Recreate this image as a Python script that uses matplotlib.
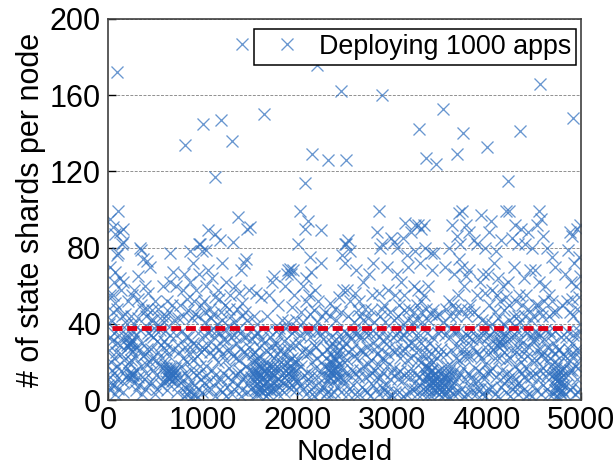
# state shards per node, deploying 1000 apps
import numpy as np
import matplotlib
matplotlib.use("Agg")
import matplotlib.pyplot as plt

# data, (node id, shards), grouped by node range
band0=[(100,172),(109,99),(21,95),(56,91),(162,90),(74,87),(126,88),(144,82),(161,83),(109,77),(91,76),(338,80),(345,79),(373,74),(408,73),(444,70),(74,67),(20,70),(162,62),(320,65),(391,60),(126,64),(60,62),(25,55),(56,55),(215,52),(426,56),(497,52),(460,47),(144,44),(180,45),(320,43),(100,48),(30,42),(280,40),(400,44),(450,42),(350,50),(250,55),(200,40),(120,38),(60,35),(20,33),(90,30),(232,30),(268,31),(197,29),(240,27),(225,33),(255,25),(300,34),(360,30),(420,35),(480,33),(330,26),(390,24),(450,27),(140,24),(60,22),(30,20),(100,18),(170,21),(60,14),(90,11),(268,13),(232,12),(250,13),(300,16),(350,18),(400,14),(440,20),(480,16),(20,5),(39,8),(70,3),(110,6),(356,3),(330,8),(390,6),(460,9),(300,5),(495,3),(150,10),(25,12),(10,26),(220,20)]
band1=[(814,134),(655,77),(867,78),(690,67),(585,60),(796,58),(532,48),(796,44),(884,43),(850,47),(760,50),(700,42),(640,46),(590,41),(540,39),(930,58),(960,66),(980,50),(920,45),(720,60),(660,62),(620,52),(800,66),(870,62),(900,72),(960,82),(990,78),(971,82),(660,34),(600,36),(720,34),(780,36),(850,33),(900,30),(950,35),(520,31),(560,29),(610,26),(690,27),(750,25),(810,28),(870,24),(940,23),(990,28),(510,21),(545,18),(600,19),(640,17),(673,13),(620,14),(708,12),(585,17),(650,12),(690,15),(660,11),(635,15),(720,15),(770,18),(830,20),(880,16),(930,13),(970,18),(560,8),(520,6),(620,5),(580,10),(730,4),(831,3),(920,3),(880,4),(800,2),(860,8),(950,6),(990,4),(840,6),(900,1),(780,10)]
band2=[(1005,145),(1191,147),(1314,136),(1131,117),(1413,187),(1376,96),(1500,91),(1059,89),(1130,87),(1182,84),(1323,83),(1041,79),(1200,72),(1059,68),(1464,74),(1411,68),(1440,72),(1470,90),(1040,60),(1100,64),(1160,58),(1250,62),(1290,55),(1340,60),(1380,56),(1010,52),(1080,48),(1130,54),(1190,46),(1240,50),(1300,44),(1360,48),(1420,44),(1470,42),(1030,41),(1090,43),(1150,40),(1210,42),(1270,39),(1330,41),(1390,38),(1450,46),(1060,35),(1120,33),(1180,35),(1240,32),(1300,33),(1350,30),(1400,35),(1460,33),(1020,27),(1080,25),(1140,28),(1200,24),(1260,26),(1320,23),(1380,21),(1440,25),(1490,28),(1040,18),(1100,16),(1160,20),(1220,14),(1280,17),(1340,13),(1400,15),(1460,18),(1020,9),(1090,6),(1150,10),(1210,4),(1260,7),(1310,3),(1370,8),(1420,5),(1480,9),(1130,2)]
band3=[(1652,150),(1540,44),(1560,56),(1570,35),(1580,40),(1620,54),(1680,44),(1700,55),(1730,62),(1760,65),(1800,50),(1840,42),(1870,60),(1890,66),(1905,68),(1922,69),(1957,68),(1932,66),(1970,55),(1950,49),(1900,41),(1830,35),(1790,30),(1710,33),(1650,30),(1600,28),(1550,25),(1520,20),(1560,16),(1590,19),(1610,13),(1540,10),(1570,8),(1555,5),(1590,3),(1620,7),(1640,12),(1660,15),(1680,10),(1700,18),(1720,14),(1740,9),(1760,13),(1780,6),(1800,3),(1830,10),(1650,5),(1690,3),(1725,5),(1600,10),(1580,14),(1560,12),(1630,17),(1665,20),(1710,24),(1750,22),(1790,18),(1820,16),(1850,19),(1880,24),(1900,14),(1920,18),(1940,12),(1960,16),(1980,10),(1890,8),(1930,6),(1860,4),(1990,5),(1950,22),(1985,20),(1905,27),(1975,29),(1515,6),(1530,15),(1670,2),(1700,8),(1610,22),(1755,30),(1820,26),(1860,31),(1940,35),(1985,42),(1600,18),(1640,8),(1680,17),(1730,18),(1575,22),(1525,32)]
band4=[(2160,129),(2326,126),(2083,114),(2205,176),(2463,162),(2027,99),(2115,94),(2080,90),(2256,89),(2010,82),(2133,75),(2256,72),(2060,60),(2095,64),(2150,67),(2190,58),(2130,55),(2090,52),(2040,46),(2180,47),(2220,52),(2290,46),(2350,44),(2400,48),(2440,54),(2480,58),(2500,82),(2470,76),(2510,72),(2000,38),(2060,41),(2120,36),(2180,38),(2240,34),(2300,37),(2360,33),(2420,36),(2470,32),(2020,30),(2080,27),(2140,25),(2200,28),(2260,24),(2320,27),(2360,24),(2400,28),(2440,23),(2490,20),(2040,18),(2100,14),(2160,20),(2220,12),(2280,18),(2340,16),(2370,20),(2390,13),(2410,18),(2430,15),(2350,12),(2380,10),(2400,22),(2420,25),(2450,12),(2470,16),(2310,10),(2280,7),(2240,4),(2200,8),(2160,3),(2120,9),(2060,6),(2010,10),(2500,9),(2460,4),(2420,7),(2360,3),(2320,4),(2375,16),(2400,16),(2345,20),(2140,45)]
band5=[(2893,160),(2516,126),(2520,82),(2540,84),(2560,78),(2620,68),(2700,62),(2760,66),(2800,72),(2860,99),(2845,88),(2880,80),(2900,82),(2950,70),(2990,85),(2610,56),(2530,58),(2560,52),(2650,52),(2720,48),(2790,55),(2860,56),(2920,50),(2960,58),(2540,44),(2600,41),(2660,44),(2700,42),(2745,43),(2810,41),(2870,44),(2930,41),(2985,46),(2520,35),(2570,32),(2630,35),(2690,33),(2750,34),(2800,30),(2860,33),(2920,31),(2970,28),(2540,25),(2600,23),(2660,26),(2720,24),(2780,21),(2840,24),(2900,22),(2950,18),(2520,14),(2580,16),(2640,12),(2700,18),(2760,13),(2820,16),(2880,12),(2940,8),(2990,14),(2550,6),(2610,3),(2680,7),(2740,4),(2800,8),(2860,3),(2920,5),(2970,1)]
band6=[(3290,142),(3362,127),(3464,124),(3140,93),(3200,88),(3250,92),(3280,92),(3340,92),(3310,90),(3020,83),(3060,80),(3120,85),(3160,76),(3240,78),(3300,72),(3350,80),(3410,77),(3450,77),(3420,68),(3050,66),(3100,62),(3170,70),(3230,60),(3280,58),(3340,55),(3380,60),(3030,55),(3080,50),(3130,55),(3180,48),(3230,46),(3270,50),(3310,46),(3360,48),(3410,45),(3470,44),(3020,42),(3070,44),(3120,40),(3170,42),(3220,41),(3265,42),(3320,41),(3380,42),(3440,47),(3500,45),(3040,34),(3100,33),(3150,36),(3200,30),(3260,34),(3310,30),(3370,35),(3430,33),(3490,35),(3030,25),(3090,22),(3140,27),(3200,22),(3260,25),(3310,20),(3340,15),(3360,12),(3380,17),(3400,14),(3420,10),(3440,13),(3460,8),(3480,11),(3500,6),(3370,18),(3395,9),(3415,16),(3435,5),(3455,14),(3475,4),(3490,15),(3050,14),(3110,10),(3170,15),(3230,9),(3290,12),(3080,4),(3150,3),(3210,6),(3270,3),(3330,6),(3345,10),(3390,20),(3440,20),(3390,5),(3365,24),(3410,24)]
band7=[(3538,153),(3753,140),(3686,129),(3710,98),(3740,99),(3640,92),(3690,86),(3600,80),(3560,70),(3720,82),(3780,92),(3820,88),(3870,84),(3940,97),(3900,82),(3980,80),(3660,66),(3710,74),(3740,70),(3780,65),(3820,68),(3700,55),(3760,60),(3650,50),(3610,44),(3570,48),(3540,41),(3680,44),(3730,48),(3780,44),(3830,50),(3870,46),(3930,62),(3900,55),(3960,66),(3990,56),(3950,42),(3515,36),(3560,34),(3610,33),(3660,36),(3720,32),(3790,34),(3840,36),(3900,33),(3960,34),(3520,27),(3575,24),(3630,26),(3680,22),(3740,27),(3800,23),(3860,28),(3920,24),(3980,28),(3515,14),(3535,10),(3555,8),(3570,13),(3590,6),(3610,11),(3525,4),(3550,3),(3600,2),(3640,8),(3660,15),(3700,12),(3750,17),(3810,14),(3860,10),(3920,15),(3975,11),(3680,4),(3730,6),(3790,3),(3840,4),(3900,6),(3950,3),(3995,5),(3625,18),(3580,18)]
band8=[(4006,133),(4355,141),(4228,115),(4050,94),(4030,88),(4100,78),(4080,72),(4150,84),(4210,99),(4240,99),(4270,85),(4300,92),(4330,82),(4370,90),(4410,82),(4440,88),(4480,80),(4020,66),(4060,58),(4120,64),(4180,60),(4230,62),(4290,70),(4340,55),(4400,64),(4460,68),(4030,50),(4090,46),(4140,52),(4190,47),(4240,50),(4290,44),(4330,44),(4380,50),(4440,48),(4490,44),(4000,41),(4060,40),(4120,43),(4180,40),(4240,42),(4300,39),(4360,41),(4410,44),(4470,42),(4030,34),(4090,32),(4140,36),(4200,34),(4260,33),(4320,36),(4380,30),(4430,35),(4490,31),(4160,32),(4130,28),(4020,24),(4070,26),(4130,22),(4190,25),(4250,22),(4310,25),(4370,20),(4430,23),(4480,21),(4040,15),(4100,12),(4160,16),(4220,14),(4280,10),(4340,15),(4400,12),(4460,14),(4030,6),(4090,3),(4150,7),(4210,4),(4270,6),(4330,3),(4390,5),(4450,3),(4490,8)]
band9=[(4567,166),(4912,148),(4555,99),(4580,95),(4530,92),(4600,86),(4640,80),(4690,75),(4720,70),(4510,68),(4560,62),(4620,60),(4660,55),(4880,88),(4910,86),(4960,90),(4990,92),(4860,79),(4930,72),(4980,75),(4830,66),(4890,62),(4950,60),(4990,65),(4520,50),(4570,46),(4610,52),(4660,44),(4700,46),(4590,44),(4740,46),(4800,50),(4850,52),(4880,46),(4920,44),(4960,48),(4990,40),(4510,36),(4560,33),(4620,37),(4680,34),(4730,36),(4790,33),(4850,36),(4900,30),(4960,34),(4530,26),(4590,24),(4640,28),(4700,30),(4760,26),(4810,24),(4870,27),(4920,22),(4980,26),(4510,14),(4570,16),(4630,12),(4680,18),(4710,20),(4730,14),(4750,10),(4770,6),(4790,12),(4810,8),(4740,17),(4760,19),(4780,15),(4820,17),(4860,13),(4910,16),(4960,11),(4520,5),(4580,3),(4640,6),(4700,3),(4730,5),(4750,2),(4790,3),(4770,1),(4830,3),(4880,5),(4940,3),(4990,6)]

# second pass over the dense part, mostly below 50
low0=[(15,40),(47,31),(83,25),(116,34),(135,15),(175,33),(205,17),(212,36),(243,21),(262,36),(285,22),(315,12),(341,37),(368,23),(377,11),(412,27),(433,9),(469,22),(488,38),(38,16),(66,8),(124,29),(154,4),(187,12),(278,9),(295,28),(405,19),(455,34),(225,30),(237,29),(248,31),(215,28),(258,14),(241,11),(222,14),(5,8),(48,46),(77,51),(136,58),(238,44),(278,58),(312,53),(372,47),(416,48),(478,42)]
low1=[(507,13),(533,25),(552,37),(574,22),(596,31),(613,10),(628,29),(647,23),(668,17),(676,10),(685,13),(698,11),(703,17),(665,14),(652,15),(644,11),(627,12),(612,17),(742,29),(757,12),(789,22),(812,14),(823,33),(845,12),(862,28),(895,21),(912,8),(934,29),(958,14),(978,25),(984,11),(745,8),(815,7),(870,1),(945,1),(573,44),(612,44),(673,50),(738,43),(830,53),(905,52),(956,44)]
low2=[(1013,34),(1036,13),(1052,29),(1072,10),(1093,37),(1113,23),(1127,13),(1145,36),(1172,27),(1193,11),(1216,32),(1233,21),(1252,37),(1273,12),(1292,26),(1312,10),(1335,34),(1356,22),(1372,14),(1391,27),(1412,11),(1433,33),(1452,12),(1472,24),(1492,16),(1042,5),(1185,6),(1245,2),(1330,6),(1403,2),(1466,4),(1023,46),(1112,45),(1173,53),(1283,48),(1412,51),(1493,58)]
low3=[(1508,12),(1532,24),(1547,14),(1563,21),(1568,3),(1577,11),(1586,6),(1598,14),(1606,5),(1615,17),(1623,11),(1633,4),(1645,16),(1655,9),(1672,14),(1685,6),(1695,13),(1708,5),(1715,11),(1735,13),(1745,18),(1753,6),(1770,15),(1775,10),(1785,24),(1795,11),(1812,7),(1825,20),(1842,13),(1855,9),(1872,16),(1885,13),(1895,20),(1908,10),(1915,14),(1928,21),(1935,16),(1945,8),(1955,14),(1967,20),(1972,12),(1992,16),(1628,32),(1672,26),(1692,37),(1738,28),(1772,36),(1808,38),(1845,24),(1875,38),(1925,29),(1965,36),(1548,34),(1588,35)]
low4=[(2012,21),(2033,34),(2051,25),(2072,13),(2088,36),(2108,24),(2118,11),(2133,33),(2152,13),(2173,29),(2188,17),(2212,22),(2232,36),(2248,15),(2268,32),(2292,12),(2305,22),(2322,17),(2332,12),(2352,17),(2362,14),(2382,22),(2392,17),(2405,11),(2415,21),(2428,11),(2438,19),(2452,26),(2482,28),(2495,36),(2343,28),(2373,30),(2408,32),(2030,8),(2095,3),(2145,6),(2182,2),(2265,7),(2305,3),(2392,4),(2482,11),(2210,41),(2265,44),(2342,51),(2412,42),(2468,46)]
low5=[(2506,30),(2528,21),(2552,34),(2562,13),(2582,27),(2603,35),(2615,14),(2633,22),(2652,33),(2668,16),(2682,26),(2706,37),(2712,12),(2735,28),(2753,19),(2772,35),(2788,14),(2812,27),(2828,35),(2842,12),(2855,19),(2888,27),(2902,36),(2912,14),(2933,21),(2943,33),(2962,24),(2982,11),(2532,3),(2590,8),(2655,3),(2712,5),(2768,2),(2832,6),(2892,7),(2953,4),(2993,3),(2640,47),(2775,47),(2893,48)]
low6=[(3012,33),(3026,17),(3048,27),(3062,11),(3073,36),(3087,15),(3108,26),(3125,13),(3133,34),(3158,21),(3172,29),(3188,12),(3212,36),(3222,16),(3245,29),(3252,13),(3278,21),(3296,34),(3302,8),(3322,24),(3352,18),(3368,6),(3375,13),(3386,11),(3403,8),(3412,12),(3425,16),(3432,9),(3447,10),(3452,5),(3468,12),(3473,9),(3487,7),(3494,3),(3412,2),(3372,2),(3352,28),(3402,30),(3452,27),(3482,22),(3038,4),(3118,2),(3192,4),(3246,6),(3318,3),(3312,52),(3128,47)]
low7=[(3508,24),(3512,8),(3528,17),(3542,12),(3548,6),(3562,12),(3568,3),(3577,9),(3584,12),(3596,9),(3606,15),(3618,5),(3632,13),(3652,3),(3668,10),(3688,28),(3695,36),(3712,21),(3725,14),(3745,33),(3762,23),(3772,11),(3785,27),(3812,33),(3822,23),(3835,12),(3852,32),(3875,17),(3888,25),(3908,10),(3932,33),(3945,22),(3962,13),(3972,37),(3988,19),(3612,38),(3712,4),(3768,2),(3825,7),(3885,3),(3932,6),(3982,2),(3603,52),(3672,48),(3805,47),(3915,44)]
low8=[(4012,33),(4022,14),(4048,28),(4062,17),(4078,36),(4095,22),(4108,29),(4122,37),(4145,31),(4152,30),(4168,29),(4172,12),(4185,35),(4202,21),(4218,31),(4232,11),(4246,37),(4262,26),(4272,13),(4292,33),(4302,18),(4322,28),(4336,9),(4352,32),(4362,23),(4378,14),(4396,27),(4412,36),(4422,17),(4448,28),(4472,12),(4488,34),(4055,7),(4118,2),(4182,9),(4245,2),(4302,7),(4362,8),(4418,2),(4478,2),(4108,55),(4212,54),(4312,52),(4422,55)]
low9=[(4505,32),(4522,21),(4542,35),(4552,12),(4562,27),(4578,23),(4602,17),(4612,32),(4622,22),(4652,14),(4662,36),(4672,22),(4692,26),(4704,13),(4722,11),(4726,24),(4733,8),(4742,12),(4748,6),(4756,14),(4763,9),(4772,11),(4778,4),(4785,9),(4798,16),(4802,5),(4815,13),(4835,23),(4842,33),(4852,20),(4884,16),(4895,24),(4918,34),(4932,18),(4948,26),(4968,17),(4978,36),(4992,22),(4603,8),(4662,3),(4842,8),(4902,7),(4966,4),(4768,27),(4542,50),(4698,52),(4902,53),(4978,54)]

mean_x=[40,4890]
mean_y=[38,38]
xticks=[0,1000,2000,3000,4000,5000]
yticks=[0,40,80,120,160,200]
label0="Deploying 1000 apps"

pts=np.array(band0+band1+band2+band3+band4+band5+band6+band7+band8+band9
    +low0+low1+low2+low3+low4+low5+low6+low7+low8+low9)

# plotstyle
plt.rcParams['font.family']=['Liberation Sans','DejaVu Sans']
FS=22

f0=plt.figure(figsize=(6.16,4.71),dpi=100)
ax0=f0.add_axes([108/616,1-400/471,473/616,381/471])

ax0.plot(pts[:,0],pts[:,1],ls='none',marker='x',ms=9.2,mew=0.95,color='#2f6fbf',alpha=0.72,label=label0,zorder=2)
ax0.plot(mean_x,mean_y,color='#e00018',lw=3.5,dashes=(2.05,0.97),zorder=3)

ax0.set_xlim(0,5000)
ax0.set_ylim(0,200)
ax0.set_xticks(xticks)
ax0.set_yticks(yticks)
ax0.tick_params(direction='in',length=6,width=1,labelsize=FS)
ax0.tick_params(axis='x',pad=4)
ax0.tick_params(axis='y',pad=5)
ax0.yaxis.grid(True,ls='--',lw=0.7,color='#909090',dashes=(3,1.5))
ax0.set_axisbelow(True)
for s0 in ax0.spines.values():
    s0.set_color('#404040')
    s0.set_linewidth(1.2)

ax0.set_xlabel("NodeId",fontsize=21.5,labelpad=2)
ax0.set_ylabel("# of state shards per node",fontsize=22,labelpad=3)

leg0=ax0.legend(loc='upper left',bbox_to_anchor=(0.309,0.974),borderaxespad=0,fontsize=19.4,
    frameon=True,fancybox=False,framealpha=1,edgecolor='black',handlelength=2.1,
    borderpad=0.18,handletextpad=0.12,numpoints=1)
leg0.get_frame().set_linewidth(1.1)
leg0.set_zorder(5)

f0.savefig("out.png",dpi=100)
